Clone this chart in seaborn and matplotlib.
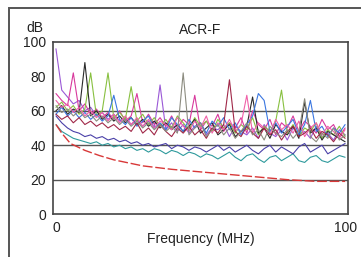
import matplotlib
matplotlib.use("Agg")
import matplotlib.pyplot as plt
from matplotlib.patches import Rectangle
import pandas as pd
import seaborn as sns

#%% Data (dB vs frequency in MHz, one sample every 2 MHz)
freq = [0, 2, 4, 6, 8, 10, 12, 14, 16, 18,
        20, 22, 24, 26, 28, 30, 32, 34, 36, 38,
        40, 42, 44, 46, 48, 50, 52, 54, 56, 58,
        60, 62, 64, 66, 68, 70, 72, 74, 76, 78,
        80, 82, 84, 86, 88, 90, 92, 94, 96, 98,
        100]

pair_names = ['purple', 'magenta', 'green', 'dark', 'blue',
              'pink', 'darkred', 'grey', 'teal', 'indigo']

purple = [96, 72, 68, 64, 66, 60, 62, 57, 59, 55,
          58, 54, 56, 52, 55, 51, 54, 50, 75, 49,
          53, 48, 52, 47, 51, 53, 46, 50, 49, 52,
          45, 51, 48, 46, 50, 44, 52, 47, 45, 49,
          43, 50, 46, 48, 44, 51, 45, 47, 43, 49,
          46]
magenta = [70, 66, 63, 82, 60, 64, 58, 61, 56, 59,
           55, 60, 54, 57, 70, 53, 58, 52, 56, 51,
           57, 50, 55, 52, 69, 49, 54, 51, 58, 48,
           53, 50, 56, 47, 60, 52, 49, 55, 46, 53,
           50, 57, 48, 54, 51, 47, 55, 49, 52, 45,
           50]
green = [62, 65, 60, 63, 58, 61, 82, 57, 60, 82,
         56, 59, 55, 74, 54, 58, 52, 56, 51, 55,
         50, 57, 53, 49, 56, 51, 54, 48, 55, 50,
         53, 47, 52, 49, 56, 46, 51, 48, 54, 72,
         47, 52, 45, 50, 48, 53, 44, 49, 46, 51,
         45]
dark = [60, 63, 58, 61, 59, 88, 57, 60, 55, 58,
        54, 57, 53, 56, 52, 55, 51, 54, 50, 53,
        49, 52, 48, 51, 55, 47, 50, 53, 46, 49,
        52, 45, 48, 51, 68, 47, 50, 44, 52, 48,
        46, 51, 44, 65, 47, 50, 43, 48, 46, 44,
        42]
blue = [58, 62, 57, 60, 56, 59, 55, 58, 54, 57,
        69, 55, 52, 56, 51, 54, 57, 50, 53, 49,
        56, 52, 48, 55, 50, 53, 47, 54, 51, 56,
        49, 53, 46, 52, 57, 70, 66, 48, 53, 47,
        51, 55, 46, 52, 66, 48, 51, 45, 50, 47,
        52]
pink = [66, 62, 64, 59, 62, 57, 60, 56, 59, 54,
        58, 53, 57, 52, 56, 51, 55, 50, 54, 52,
        49, 56, 51, 48, 54, 50, 57, 47, 53, 49,
        55, 48, 52, 69, 47, 53, 50, 46, 55, 49,
        52, 47, 54, 45, 50, 53, 46, 51, 48, 44,
        49]
darkred = [58, 55, 57, 53, 56, 52, 54, 51, 53, 50,
           52, 49, 51, 48, 53, 47, 50, 46, 52, 48,
           45, 50, 47, 51, 46, 49, 44, 50, 47, 52,
           78, 48, 45, 51, 47, 44, 50, 46, 49, 43,
           48, 51, 45, 47, 50, 44, 48, 46, 42, 47,
           44]
grey = [63, 59, 61, 57, 60, 56, 58, 54, 57, 53,
        56, 52, 55, 51, 54, 50, 53, 49, 52, 48,
        51, 47, 82, 46, 50, 53, 45, 49, 52, 46,
        50, 44, 48, 53, 46, 49, 43, 51, 47, 45,
        49, 44, 48, 67, 45, 42, 47, 44, 50, 43,
        46]
teal = [52, 48, 46, 44, 43, 42, 41, 42, 40, 41,
        39, 40, 38, 39, 37, 38, 36, 38, 37, 35,
        37, 36, 34, 36, 35, 33, 35, 34, 32, 34,
        36, 33, 31, 34, 35, 32, 30, 33, 34, 31,
        33, 35, 31, 30, 33, 34, 31, 30, 32, 34,
        33]
indigo = [57, 53, 50, 48, 47, 45, 46, 44, 45, 43,
          44, 42, 43, 41, 42, 40, 41, 39, 40, 41,
          38, 40, 39, 37, 39, 38, 36, 38, 40, 37,
          39, 36, 38, 40, 37, 35, 38, 40, 36, 39,
          37, 35, 39, 41, 36, 38, 40, 35, 37, 39,
          41]

# limit line (smooth red curve)
limit_freq = [0, 2, 5, 10, 15, 20, 30, 40, 50, 60, 70, 80, 90, 100]
limit_db = [52, 47, 41, 37, 34, 31.5, 28, 26, 24.5, 23, 21.5, 20, 19, 19]

#%% Long-form table for seaborn
series = [purple, magenta, green, dark, blue, pink, darkred, grey, teal, indigo]
frames = [pd.DataFrame({'freq': freq, 'dB': vals, 'pair': name})
          for name, vals in zip(pair_names, series)]
data = pd.concat(frames, ignore_index=True)
limit = pd.DataFrame({'freq': limit_freq, 'dB': limit_db})

colors = ['#9a58d6', '#d8389c', '#88c040', '#2a2a2a', '#3a76e0',
          '#f060a8', '#a02848', '#8c8c80', '#2e9a9c', '#4a40a8']

#%% Figure
sns.set_style("white")
plt.rcParams['font.family'] = ['Liberation Sans', 'DejaVu Sans']

fig = plt.figure(figsize=(3.61, 2.57), dpi=100)
ax = fig.add_axes([0.147, 0.167, 0.817, 0.67])

# outer frame around the whole panel
fig.patches.append(Rectangle((0.025, -0.02), 1.0, 0.989, transform=fig.transFigure,
                             fill=False, edgecolor='#555555', linewidth=1.4))

for y in [20, 40, 60]:
    ax.axhline(y, color='#555555', linewidth=1.0, zorder=1)

sns.lineplot(data=data, x='freq', y='dB', hue='pair', palette=colors,
             linewidth=0.8, legend=False, ax=ax, zorder=2)
sns.lineplot(data=limit, x='freq', y='dB', color='#d83838', linewidth=1.0,
             dashes=False, ax=ax, zorder=3)
ax.lines[-1].set_dashes([7, 2])

ax.set_xlim(-1, 101)
ax.set_ylim(0, 100)
ax.set_yticks([0, 20, 40, 60, 80, 100])
ax.set_yticklabels(['0', '20', '40', '60', '80', '100'])
ax.set_xticks([0, 100])
ax.set_xticklabels(['0', '100'])
ax.tick_params(length=0, labelsize=10, colors='#222222', pad=5)
ax.set_xlabel('')
ax.set_ylabel('')
ax.text(0.5, -0.145, 'Frequency (MHz)', transform=ax.transAxes,
        ha='center', va='center', fontsize=10, color='#222222')
ax.set_title('ACR-F', fontsize=10, color='#222222', pad=6)
fig.text(0.097, 0.89, 'dB', ha='center', va='center', fontsize=10, color='#222222')

for spine in ax.spines.values():
    spine.set_color('#444444')
    spine.set_linewidth(1.2)

fig.savefig('out.png', dpi=100)
